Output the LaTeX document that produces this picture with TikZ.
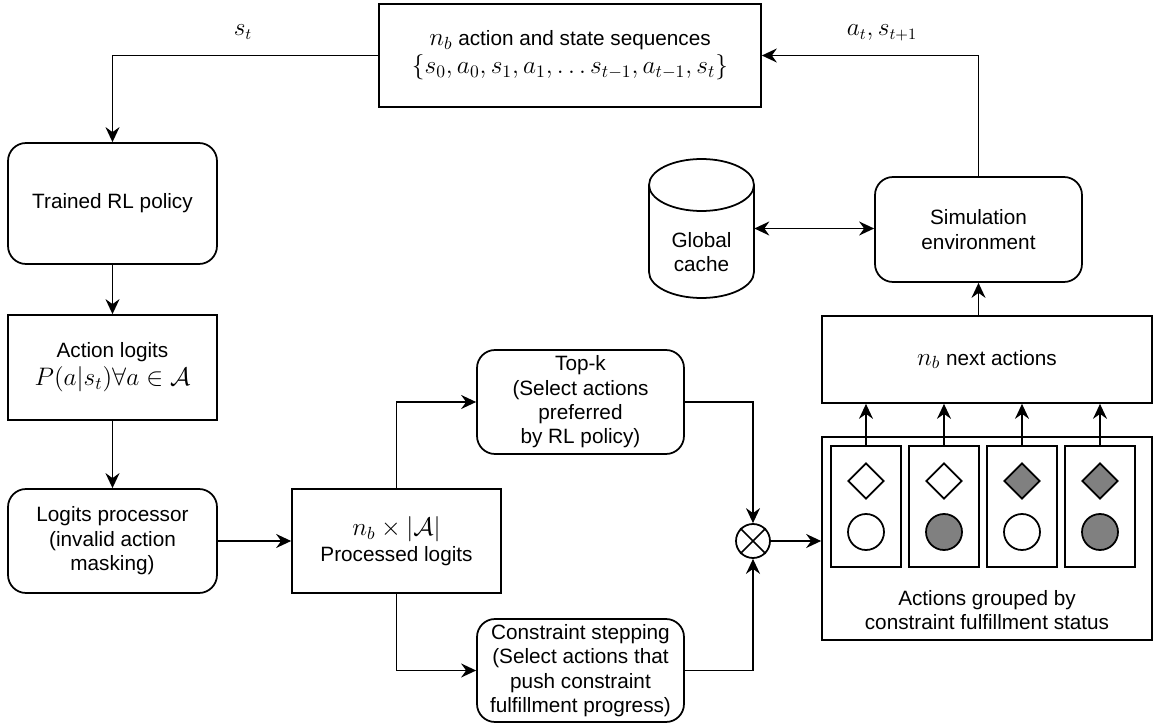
\documentclass[tikz,border=0pt]{standalone}
\usepackage{amssymb, amsmath}
\usepackage{fontspec}
\setmainfont{Liberation Sans}
\usetikzlibrary{arrows.meta, shapes.geometric}

\newcommand{\bigmath}[1]{{\fontsize{14.5}{17}\selectfont$#1$}}
\newcommand{\lblmath}[1]{{\fontsize{13.5}{16}\selectfont$#1$}}

\begin{document}
\begin{tikzpicture}
    [
    x=0.02cm, y=-0.02cm,
    every node/.style={font=\fontsize{11.8}{13.9}\selectfont, align=center},
    box/.style={draw, line width=1pt, inner sep=0pt},
    roundbox/.style={box, rounded corners=0.36cm},
    link/.style={line width=1pt, -{Stealth[length=0.3cm, width=0.28cm, inset=0.1cm]}},
    biglink/.style={line width=1pt, {Stealth[length=0.3cm, width=0.28cm, inset=0.1cm]}-{Stealth[length=0.3cm, width=0.28cm, inset=0.1cm]}},
    marker/.style={draw, line width=1pt, inner sep=0pt, minimum width=0.72cm, minimum height=0.72cm},
    ]
    \useasboundingbox (0,0) rectangle (1154,723);

    % Sequences and policy column
    \node[box, minimum width=7.64cm, minimum height=2.06cm] (seq) at (570,55.5)
        {\bigmath{n_b} action and state sequences\\[2pt] \bigmath{\{s_0, a_0, s_1, a_1, \ldots s_{t-1}, a_{t-1}, s_t\}}};
    \node[roundbox, minimum width=4.18cm, minimum height=2.42cm] (policy) at (112.5,203.5) {Trained RL policy};
    \node[box, minimum width=4.18cm, minimum height=2.1cm] (logits) at (112.5,367.5)
        {Action logits\\[2pt] \bigmath{P(a|s_t) \forall a \in \mathcal{A}}};
    \node[roundbox, minimum width=4.18cm, minimum height=2.08cm] (proc) at (112.5,541)
        {Logits processor\\(invalid action\\masking)};

    % Processing branches
    \node[box, minimum width=4.18cm, minimum height=2.08cm] (processed) at (396.5,541)
        {\bigmath{n_b \times |\mathcal{A}|}\\[1pt]Processed logits};
    \node[roundbox, minimum width=4.14cm, minimum height=2.08cm] (topk) at (580.5,402)
        {Top-k\\(Select actions\\preferred\\by RL policy)};
    \node[roundbox, minimum width=4.14cm, minimum height=2.06cm] (cstep) at (580.5,670.5)
        {Constraint stepping\\(Select actions that\\push constraint\\fulfillment progress)};
    \node[draw, line width=1pt, circle, minimum size=0.68cm, inner sep=0pt] (mult) at (753,541) {};
    \draw[line width=1pt] (mult.45) -- (mult.225) (mult.135) -- (mult.315);

    % Grouped actions
    \node[box, minimum width=6.6cm, minimum height=4.06cm] (group) at (987,538.5) {};
    \node (grouptxt) at (987,610) {Actions grouped by\\constraint fulfillment status};
    \foreach \i/\dcol/\ccol in {1/white/white, 2/white/gray, 3/gray/white, 4/gray/gray} {
        \node[box, minimum width=1.4cm, minimum height=2.42cm] (g\i) at (866+78*\i-78,506.5) {};
        \node[marker, diamond, fill=\dcol] (d\i) at (866+78*\i-78,481) {};
        \node[marker, circle, fill=\ccol] (c\i) at (866+78*\i-78,532) {};
    }
    \node[box, minimum width=6.6cm, minimum height=1.74cm] (next) at (987,359.5) {\bigmath{n_b} next actions};

    % Environment and cache
    \node[roundbox, minimum width=4.14cm, minimum height=2.1cm] (sim) at (978.5,229.5)
        {Simulation\\environment};
    \node[inner sep=0pt, minimum width=2.1cm, minimum height=2.78cm] (cache) at (701.5,228.5) {};
    \draw[line width=1pt] (701.5,185) ellipse [x radius=1.05cm, y radius=0.52cm];
    \draw[line width=1pt] (649,185) -- (649,272) arc[start angle=180, end angle=360, x radius=1.05cm, y radius=0.52cm] -- (754,185);
    \node (cachetxt) at (701.5,252) {Global\\cache};

    % Labels
    \node (lblst) at (243,32) {\lblmath{s_t}};
    \node (lblat) at (882,33) {\lblmath{a_t, s_{t+1}}};

    % Connectors
    \draw[link] (seq.west) -| (policy.north);
    \draw[link] (sim.north) |- (seq.east);
    \draw[link] (policy) -- (logits);
    \draw[link] (logits) -- (proc);
    \draw[link] (proc) -- (processed);
    \draw[link] (processed.north) |- (topk.west);
    \draw[link] (processed.south) |- (cstep.west);
    \draw[link] (topk.east) -| (mult.north);
    \draw[link] (cstep.east) -| (mult.south);
    \draw[link] (mult.east) -- (mult.east -| group.west);
    \foreach \i in {1,...,4}
        \draw[link] (g\i.north) -- (g\i.north |- next.south);
    \draw[link] (sim.south |- next.north) -- (sim.south);
    \draw[biglink] (cache.east) -- (cache.east -| sim.west);

\end{tikzpicture}
\end{document}
